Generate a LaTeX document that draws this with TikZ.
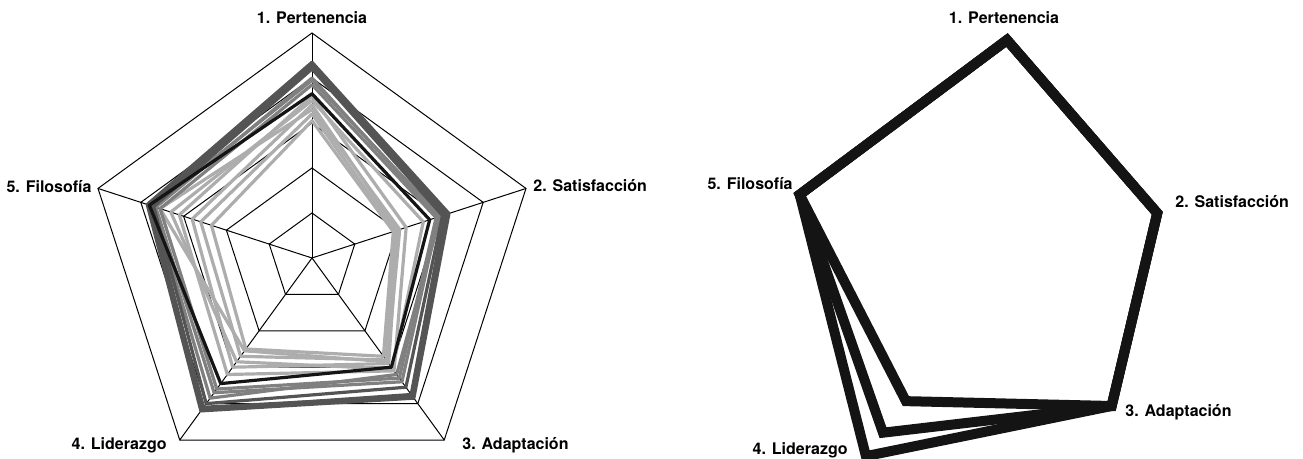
\documentclass[tikz,border=0pt]{standalone}
\usepackage{fontspec}
\setmainfont{TeX Gyre Heros}
\definecolor{lightline}{gray}{0.68}
\definecolor{midline}{gray}{0.5}
\definecolor{darkline}{gray}{0.33}
\definecolor{blackline}{gray}{0.08}
\tikzset{
  grid/.style={black,line width=0.5pt},
  dataline/.style={line width=1.6pt,line join=round},
  bigline/.style={blackline,line width=5pt,line join=miter,miter limit=4},
  lbl/.style={font=\fontsize{8}{9.6}\selectfont\bfseries,inner sep=0pt}
}
\begin{document}
\begin{tikzpicture}[x=0.5pt,y=0.5pt]
        \useasboundingbox (0,0) rectangle (1303,459);

        % left chart: all answers over the grid
        \begin{scope}[shift={(312,201)}]
        % draw the rings
        \foreach \r in {1,...,5}
                \draw[grid] (90:\r*45) -- (18:\r*45) -- (-54:\r*45) -- (-126:\r*45) -- (162:\r*45) -- cycle;
        % draw the spokes
        \foreach \x in {90,18,-54,-126,162}
                \draw[grid] (0,0) -- (\x:225);

        % values on the axes 1 to 5 (one ring = 45)
        \foreach \a/\b/\c/\d/\e/\col in {
            3.05/1.90/2.70/2.50/2.35/lightline,
            3.20/1.95/2.80/2.70/2.60/lightline,
            3.40/2.00/2.90/3.00/2.80/lightline,
            3.30/2.05/2.85/2.55/3.55/lightline,
            3.60/2.20/3.10/3.20/3.10/lightline,
            3.50/2.60/3.05/2.85/3.30/lightline,
            3.85/2.90/3.30/3.60/3.55/midline,
            4.00/2.95/3.40/3.70/3.65/midline,
            3.95/3.00/3.20/3.85/3.70/midline,
            4.20/3.05/3.55/4.00/3.70/darkline,
            4.25/3.10/3.75/4.15/3.75/darkline,
            4.30/3.15/3.80/4.10/3.80/darkline,
            4.35/3.20/3.85/4.20/3.85/darkline,
            3.65/2.75/3.00/3.45/3.80/blackline}
                \draw[dataline,\col] (90:\a*45) -- (18:\b*45) -- (-54:\c*45) -- (-126:\d*45) -- (162:\e*45) -- cycle;

        % axis names
        \node[lbl] (l1) at (0,240) {1. Pertenencia};
        \node[lbl,anchor=west] (l2) at (221,72) {2. Satisfacción};
        \node[lbl,anchor=west] (l3) at (150,-187) {3. Adaptación};
        \node[lbl,anchor=east] (l4) at (-145,-187) {4. Liderazgo};
        \node[lbl,anchor=east] (l5) at (-220,71) {5. Filosofía};
        \end{scope}

        % right chart: three profiles, only axis 4 differs
        \begin{scope}[shift={(1007,197)}]
        \foreach \d in {240,211,172}
                \draw[bigline] (90:222) -- (18:158) -- (-54:178) -- (-126:\d) -- (162:218) -- cycle;

        % axis names
        \node[lbl] (r1) at (-3,244) {1. Pertenencia};
        \node[lbl,anchor=west] (r2) at (168,60) {2. Satisfacción};
        \node[lbl,anchor=west] (r3) at (118,-150) {3. Adaptación};
        \node[lbl,anchor=east] (r4) at (-159,-188) {4. Liderazgo};
        \node[lbl,anchor=east] (r5) at (-214,78) {5. Filosofía};
        \end{scope}
\end{tikzpicture}
\end{document}
